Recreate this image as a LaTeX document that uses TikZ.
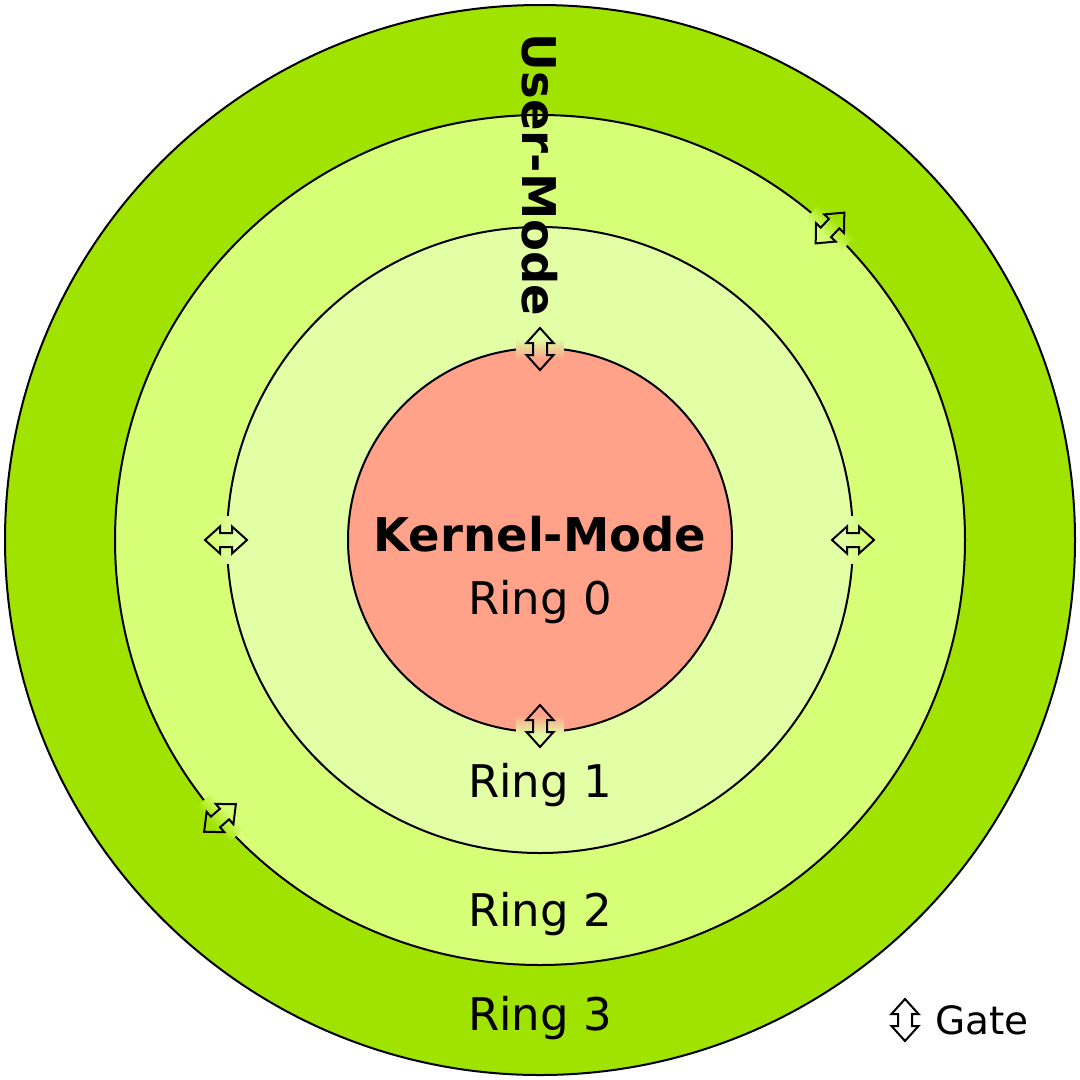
\documentclass[tikz,border=0pt]{standalone}
\usepackage{fontspec}
\setmainfont{DejaVu Sans}

\definecolor{ringthree}{RGB}{160,227,0}
\definecolor{ringtwo}{RGB}{214,255,119}
\definecolor{ringone}{RGB}{226,255,166}
\definecolor{ringzero}{RGB}{255,162,137}

\newcommand{\gatepath}{(21,0) -- (6,13.5) -- (6,7) -- (-6,7) -- (-6,13.5) -- (-21,0)
  -- (-6,-13.5) -- (-6,-7) -- (6,-7) -- (6,-13.5) -- cycle}
% gate on a ring line: position, angle, outer colour, inner colour
\newcommand{\gate}[4]{%
  \begin{scope}[shift={#1}, rotate=#2]
    \foreach \k in {0,...,9} {
      \pgfmathtruncatemacro\p{5+10*\k}
      \fill [#3!\p!#4] (-10+2*\k,-24) rectangle (-7.6+2*\k,24);
    }
    \draw [gatearrow] \gatepath;
  \end{scope}}

\tikzset{
  ringline/.style={draw=black, line width=2},
  ringtext/.style={font=\fontsize{45}{52}\selectfont, inner sep=0pt},
  modetext/.style={font=\fontsize{46.5}{54}\selectfont\bfseries, inner sep=0pt},
  gatearrow/.style={line width=2, line join=miter}
}

\begin{document}
\begin{tikzpicture}[x=1pt,y=1pt,yscale=-1,xscale=1]
\useasboundingbox (0,0) rectangle (1080,1080);

%Rings
\draw [ringline, fill=ringthree] (540,540) circle (535);
\draw [ringline, fill=ringtwo] (540,540) circle (425);
\draw [ringline, fill=ringone] (540,540) circle (313);
\draw [ringline, fill=ringzero] (540,540) circle (192);

%Gates
\gate{(540,349)}{-90}{ringone}{ringzero}
\gate{(540,726)}{90}{ringone}{ringzero}
\gate{(226,540)}{180}{ringtwo}{ringone}
\gate{(853,540)}{0}{ringtwo}{ringone}
\gate{(830,228)}{-47}{ringthree}{ringtwo}
\gate{(220,818)}{139}{ringthree}{ringtwo}

% Text Node
\node [modetext, rotate=-90] (user) at (540,175) {User-Mode};
% Text Node
\node [modetext, anchor=base] (kernel) at (540,551) {Kernel-Mode};
% Text Node
\node [ringtext, anchor=base] (ring0) at (540,614) {Ring 0};
% Text Node
\node [ringtext, anchor=base] (ring1) at (540,797) {Ring 1};
% Text Node
\node [ringtext, anchor=base] (ring2) at (540,926) {Ring 2};
% Text Node
\node [ringtext, anchor=base] (ring3) at (540,1030) {Ring 3};

%Legend
\begin{scope}[shift={(905,1020)}, rotate=90]
  \draw [gatearrow] \gatepath;
\end{scope}
% Text Node
\node [ringtext, font=\fontsize{39}{46}\selectfont, anchor=base west] (gate) at (935,1034) {Gate};

\end{tikzpicture}
\end{document}
